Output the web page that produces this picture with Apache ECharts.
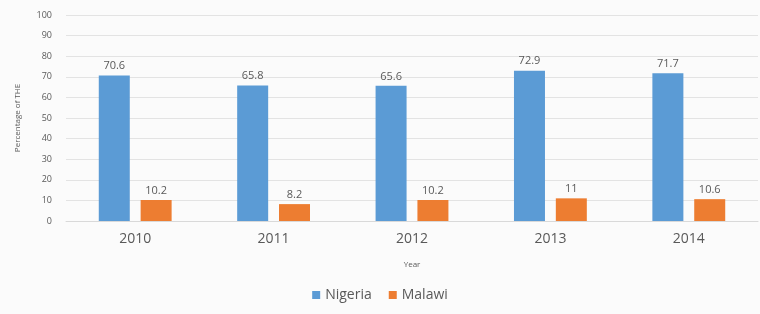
<!DOCTYPE html>
<html>
<head>
<meta charset="utf-8">
<script src="https://cdn.jsdelivr.net/npm/echarts@6/dist/echarts.min.js"></script>
<style>
  html, body { margin: 0; padding: 0; background: #fbfbfb; }
  #chart { width: 760px; height: 314px; }
</style>
</head>
<body>
<div id="chart"></div>
<script>
const years = ['2010', '2011', '2012', '2013', '2014'];
const nigeria = [70.6, 65.8, 65.6, 72.9, 71.7];
const malawi = [10.2, 8.2, 10.2, 11, 10.6];
const yTicks = { min: 0, max: 100, interval: 10 };

const textGrey = '#595959';

const chart = echarts.init(document.getElementById('chart'), null, { renderer: 'canvas' });

const barLabel = {
  show: true,
  position: 'top',
  distance: 4,
  color: textGrey,
  fontSize: 11,
  fontFamily: 'Open Sans'
};

chart.setOption({
  backgroundColor: '#fbfbfb',
  animation: false,
  grid: { left: 66, right: 2, top: 15, bottom: 93 },
  legend: {
    bottom: 7,
    left: 'center',
    itemWidth: 8,
    itemHeight: 8,
    itemGap: 17,
    icon: 'rect',
    textStyle: { color: textGrey, fontSize: 14, fontFamily: 'Open Sans' },
    data: ['Nigeria', 'Malawi']
  },
  xAxis: {
    type: 'category',
    data: years,
    name: 'Year',
    nameLocation: 'middle',
    nameGap: 40,
    nameTextStyle: { color: textGrey, fontSize: 8, fontFamily: 'Open Sans' },
    axisLine: { show: true, lineStyle: { color: '#d9d9d9' } },
    axisTick: { show: false },
    axisLabel: { color: textGrey, fontSize: 14, margin: 11, fontFamily: 'Open Sans' }
  },
  yAxis: {
    type: 'value',
    min: yTicks.min,
    max: yTicks.max,
    interval: yTicks.interval,
    name: 'Percentage of THE',
    nameLocation: 'middle',
    nameGap: 44,
    nameTextStyle: { color: textGrey, fontSize: 8, fontFamily: 'Open Sans' },
    axisLine: { show: false },
    axisTick: { show: false },
    axisLabel: { color: textGrey, fontSize: 9, margin: 14, fontFamily: 'Open Sans' },
    splitLine: { lineStyle: { color: '#e3e3e3', width: 1 } }
  },
  series: [
    {
      name: 'Nigeria',
      type: 'bar',
      data: nigeria,
      barWidth: 31,
      barGap: '35%',
      itemStyle: { color: '#5b9bd5' },
      label: barLabel
    },
    {
      name: 'Malawi',
      type: 'bar',
      data: malawi,
      barWidth: 31,
      itemStyle: { color: '#ed7d31' },
      label: barLabel
    }
  ]
});
</script>
</body>
</html>
